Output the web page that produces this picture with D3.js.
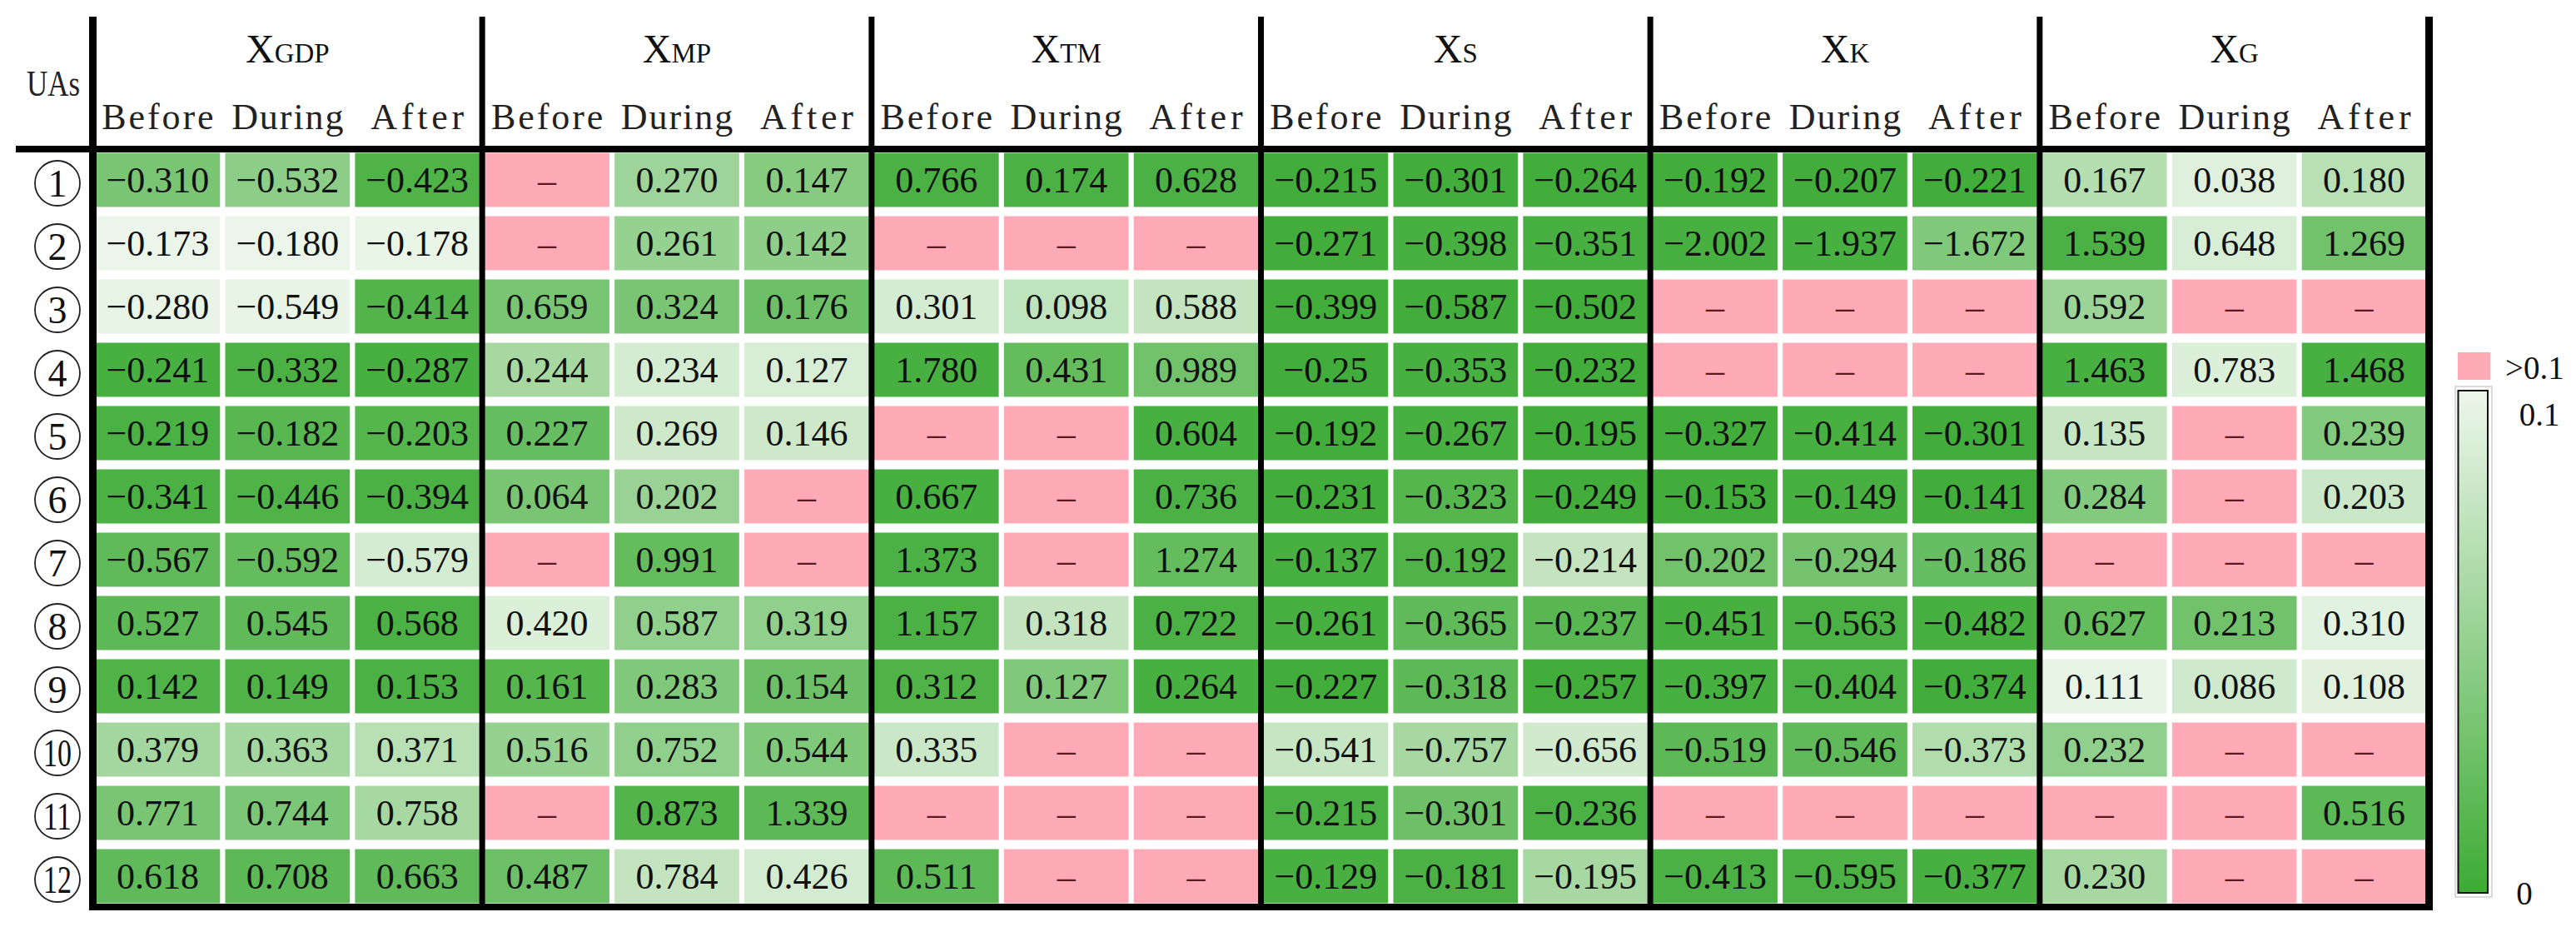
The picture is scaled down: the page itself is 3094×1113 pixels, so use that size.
<!DOCTYPE html>
<html><head><meta charset="utf-8">
<script src="https://cdn.jsdelivr.net/npm/d3@7"></script>
<style>html,body{margin:0;padding:0;background:#fff;} svg{display:block;}</style>
</head><body>
<svg id="chart" width="3094" height="1113"></svg>
<script>
// ---------- DATA ----------
const groups = ["GDP", "MP", "TM", "S", "K", "G"];
const periods = ["Before", "During", "After"];
const uas = [1, 2, 3, 4, 5, 6, 7, 8, 9, 10, 11, 12];

// coefficients (null = not significant, shown as "–")
const coefGDP = [["-0.310","-0.532","-0.423"],["-0.173","-0.180","-0.178"],["-0.280","-0.549","-0.414"],["-0.241","-0.332","-0.287"],["-0.219","-0.182","-0.203"],["-0.341","-0.446","-0.394"],["-0.567","-0.592","-0.579"],["0.527","0.545","0.568"],["0.142","0.149","0.153"],["0.379","0.363","0.371"],["0.771","0.744","0.758"],["0.618","0.708","0.663"]];
const coefMP  = [[null,"0.270","0.147"],[null,"0.261","0.142"],["0.659","0.324","0.176"],["0.244","0.234","0.127"],["0.227","0.269","0.146"],["0.064","0.202",null],[null,"0.991",null],["0.420","0.587","0.319"],["0.161","0.283","0.154"],["0.516","0.752","0.544"],[null,"0.873","1.339"],["0.487","0.784","0.426"]];
const coefTM  = [["0.766","0.174","0.628"],[null,null,null],["0.301","0.098","0.588"],["1.780","0.431","0.989"],[null,null,"0.604"],["0.667",null,"0.736"],["1.373",null,"1.274"],["1.157","0.318","0.722"],["0.312","0.127","0.264"],["0.335",null,null],[null,null,null],["0.511",null,null]];
const coefS   = [["-0.215","-0.301","-0.264"],["-0.271","-0.398","-0.351"],["-0.399","-0.587","-0.502"],["-0.25","-0.353","-0.232"],["-0.192","-0.267","-0.195"],["-0.231","-0.323","-0.249"],["-0.137","-0.192","-0.214"],["-0.261","-0.365","-0.237"],["-0.227","-0.318","-0.257"],["-0.541","-0.757","-0.656"],["-0.215","-0.301","-0.236"],["-0.129","-0.181","-0.195"]];
const coefK   = [["-0.192","-0.207","-0.221"],["-2.002","-1.937","-1.672"],[null,null,null],[null,null,null],["-0.327","-0.414","-0.301"],["-0.153","-0.149","-0.141"],["-0.202","-0.294","-0.186"],["-0.451","-0.563","-0.482"],["-0.397","-0.404","-0.374"],["-0.519","-0.546","-0.373"],[null,null,null],["-0.413","-0.595","-0.377"]];
const coefG   = [["0.167","0.038","0.180"],["1.539","0.648","1.269"],["0.592",null,null],["1.463","0.783","1.468"],["0.135",null,"0.239"],["0.284",null,"0.203"],[null,null,null],["0.627","0.213","0.310"],["0.111","0.086","0.108"],["0.232",null,null],[null,null,"0.516"],["0.230",null,null]];

// significance level (0 … 0.1) estimated from the cell shading; null = >0.1
const pGDP = [[0.034,0.045,0.010],[0.099,0.099,0.098],[0.097,0.097,0.012],[0.006,0.008,0.006],[0.008,0.016,0.014],[0.008,0.010,0.008],[0.020,0.022,0.086],[0.018,0.020,0.008],[0.010,0.010,0.008],[0.058,0.058,0.070],[0.034,0.036,0.060],[0.020,0.018,0.020]];
const pMP  = [[null,0.055,0.042],[null,0.050,0.046],[0.034,0.034,0.028],[0.060,0.086,0.088],[0.024,0.082,0.082],[0.034,0.052,null],[null,0.022,null],[0.090,0.048,0.048],[0.014,0.038,0.028],[0.050,0.048,0.038],[null,0.012,0.018],[0.028,0.076,0.085]];
const pTM  = [[0.008,0.008,0.008],[null,null,null],[0.086,0.074,0.076],[0.006,0.022,0.030],[null,null,0.006],[0.006,null,0.008],[0.008,null,0.022],[0.008,0.076,0.008],[0.010,0.038,0.006],[0.080,null,null],[null,null,null],[0.018,null,null]];
const pS   = [[0.003,0.003,0.003],[0.003,0.006,0.006],[0.003,0.003,0.003],[0.003,0.006,0.003],[0.003,0.006,0.003],[0.003,0.014,0.003],[0.006,0.010,0.076],[0.006,0.020,0.016],[0.003,0.018,0.003],[0.078,0.060,0.084],[0.008,0.028,0.008],[0.006,0.008,0.060]];
const pK   = [[0.003,0.003,0.003],[0.006,0.006,0.038],[null,null,null],[null,null,null],[0.003,0.006,0.003],[0.003,0.006,0.003],[0.030,0.032,0.024],[0.006,0.008,0.006],[0.006,0.008,0.003],[0.018,0.020,0.066],[null,null,null],[0.008,0.008,0.006]];
const pG   = [[0.068,0.092,0.070],[0.008,0.088,0.030],[0.054,null,null],[0.006,0.090,0.006],[0.078,null,0.040],[0.040,null,0.080],[null,null,null],[0.022,0.030,0.094],[0.097,0.083,0.093],[0.048,null,null],[null,null,0.018],[0.060,null,null]];

const legendTicks = ["0", "0.1"];
const legendOver = ">0.1";

// ---------- BUILD ----------
const coefs = [coefGDP, coefMP, coefTM, coefS, coefK, coefG];
const pvals = [pGDP, pMP, pTM, pS, pK, pG];
const cols = [];
groups.forEach((g, gi) => periods.forEach((p, pi) => cols.push({key: gi * 3 + pi, group: g, period: p})));
const cells = [];
uas.forEach((u, ri) => groups.forEach((g, gi) => periods.forEach((p, pi) => {
  cells.push({ua: u, col: gi * 3 + pi, label: coefs[gi][ri][pi], p: pvals[gi][ri][pi]});
})));

const svg = d3.select("#chart");
svg.append("rect").attr("width", 3094).attr("height", 1113).attr("fill", "#fff");

const x = d3.scaleBand().domain(d3.range(18)).range([111.5, 2917.5]).paddingInner(0.04).paddingOuter(0.02);
const y = d3.scaleBand().domain(uas).range([178, 1090]).paddingInner(0.145).paddingOuter(0.0725);
const color = d3.scaleLinear().domain([0, 0.1]).range(["#3DAB35", "#EDF6EB"]).interpolate(d3.interpolateRgb);
const pink = "#FFAAB6";
const serif = "'Liberation Serif','Times New Roman',serif";

// cells
const cg = svg.append("g");
cg.selectAll("rect").data(cells).join("rect")
  .attr("x", d => x(d.col)).attr("y", d => y(d.ua))
  .attr("width", x.bandwidth()).attr("height", y.bandwidth())
  .attr("fill", d => d.p == null ? pink : color(d.p));
cg.selectAll("text").data(cells).join("text")
  .attr("x", d => x(d.col) + x.bandwidth() / 2)
  .attr("y", d => y(d.ua) + y.bandwidth() / 2 + 15)
  .attr("text-anchor", "middle")
  .attr("font-family", serif).attr("font-size", 44)
  .attr("fill", d => d.label == null ? "#5a1a20" : "#111")
  .text(d => d.label == null ? "\u2013" : d.label.replace("-", "\u2212"));

// row labels (circled numbers)
const rl = svg.append("g").selectAll("g").data(uas).join("g")
  .attr("transform", d => `translate(69,${y(d) + y.bandwidth() / 2 + 4})`);
rl.append("circle").attr("r", 27).attr("fill", "none").attr("stroke", "#222").attr("stroke-width", 1.8);
rl.append("text").attr("y", 16).attr("text-anchor", "middle")
  .attr("font-family", serif).attr("font-size", 46).attr("fill", "#111")
  .each(function(d){ if (d >= 10) d3.select(this).attr("textLength", 34).attr("lengthAdjust", "spacingAndGlyphs"); })
  .text(d => d);

// header
const step = x.step();
const sepX = d3.range(7).map(i => 111.5 + i * 3 * step);
const gh = svg.append("g");
groups.forEach((g, gi) => {
  const t = gh.append("text").attr("x", (sepX[gi] + sepX[gi + 1]) / 2).attr("y", 75)
    .attr("text-anchor", "middle").attr("font-family", serif).attr("fill", "#111");
  t.append("tspan").attr("font-size", 48).text("X");
  t.append("tspan").attr("font-size", 33).text(g);
});
gh.selectAll("text.sub").data(cols).join("text").attr("class", "sub")
  .attr("x", d => x(d.key) + x.bandwidth() / 2).attr("y", 155)
  .attr("text-anchor", "middle").attr("font-family", serif)
  .attr("font-size", 44).attr("fill", "#222")
  .attr("textLength", d => d.period.length * 22.4).attr("lengthAdjust", "spacing")
  .text(d => d.period);
gh.append("text").attr("x", 64).attr("y", 115).attr("text-anchor", "middle").attr("font-family", serif)
  .attr("font-size", 44).attr("fill", "#222").attr("textLength", 64).attr("lengthAdjust", "spacingAndGlyphs").text("UAs");

// lines
const lg = svg.append("g").attr("stroke", "#000");
lg.selectAll("line.v").data(sepX).join("line").attr("class", "v")
  .attr("x1", d => d).attr("x2", d => d).attr("y1", 20).attr("y2", 1093)
  .attr("stroke-width", (d, i) => (i === 0 || i === 6) ? 9 : 7);
lg.append("line").attr("x1", 19).attr("x2", 2922).attr("y1", 179).attr("y2", 179).attr("stroke-width", 8);
lg.append("line").attr("x1", 107).attr("x2", 2922).attr("y1", 1089).attr("y2", 1089).attr("stroke-width", 8);

// legend
const leg = svg.append("g");
leg.append("rect").attr("x", 2952).attr("y", 423).attr("width", 39).attr("height", 33).attr("fill", pink);
leg.append("text").attr("x", 3009).attr("y", 455).attr("font-family", serif).attr("font-size", 39).attr("fill", "#111").text(legendOver);
const defs = svg.append("defs");
const grad = defs.append("linearGradient").attr("id", "lg").attr("x1", 0).attr("y1", 1).attr("x2", 0).attr("y2", 0);
d3.range(0, 1.0001, 0.1).forEach(t => grad.append("stop").attr("offset", t).attr("stop-color", color(t * 0.1)));
const ly = d3.scaleLinear().domain([0, 0.1]).range([1072, 469]);
leg.append("rect").attr("x", 2949).attr("y", 464).attr("width", 44).attr("height", 613).attr("fill", "none").attr("stroke", "#cfcfcf").attr("stroke-width", 1.5);
leg.append("rect").attr("x", 2952.5).attr("y", ly(0.1)).attr("width", 35.5).attr("height", ly(0) - ly(0.1))
  .attr("fill", "url(#lg)").attr("stroke", "#111").attr("stroke-width", 2);
leg.append("text").attr("x", 3050).attr("y", 511).attr("text-anchor", "middle").attr("font-family", serif).attr("font-size", 39).attr("fill", "#111").text(legendTicks[1]);
leg.append("text").attr("x", 3032).attr("y", 1086).attr("text-anchor", "middle").attr("font-family", serif).attr("font-size", 39).attr("fill", "#111").text(legendTicks[0]);
</script>
</body></html>
